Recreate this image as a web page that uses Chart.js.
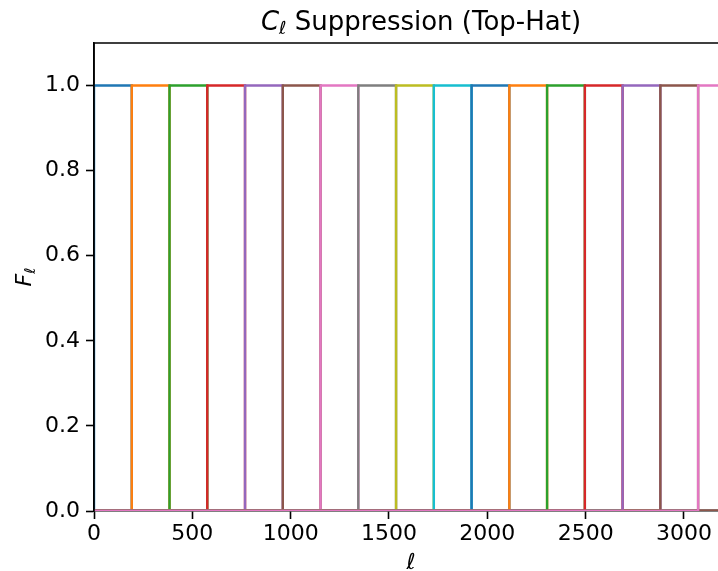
<!DOCTYPE html>
<html>
<head>
<meta charset="utf-8">
<script src="https://cdn.jsdelivr.net/npm/chart.js@4.4.0/dist/chart.umd.min.js"></script>
<style>
  html, body { margin: 0; padding: 0; background: #fff; }
  #wrap { width: 718px; height: 571px; overflow: hidden; }
</style>
</head>
<body>
<div id="wrap"><canvas id="chart" width="760" height="571"></canvas></div>
<script>
// bin edges of the top-hat windows (ell), one window per pair of edges
const binEdges = [0, 192, 384, 576, 768, 960, 1152, 1344, 1536, 1728, 1920, 2112, 2304, 2496, 2688, 2880, 3072, 3264];
const xTicks = [0, 500, 1000, 1500, 2000, 2500, 3000];
const yTicks = [0.0, 0.2, 0.4, 0.6, 0.8, 1.0];
const xMax = 3285;
const yMax = 1.1;

const colors = ['#1f77b4', '#ff7f0e', '#2ca02c', '#d62728', '#9467bd',
                '#8c564b', '#e377c2', '#7f7f7f', '#bcbd22', '#17becf'];

// build one top-hat line per bin: 0 everywhere, 1 inside the bin
const nBins = binEdges.length - 1;
const datasets = [];
for (let i = 0; i < nBins; i++) {
    const a = binEdges[i], b = binEdges[i + 1];
    datasets.push({
        data: [{x: 0, y: 0}, {x: a, y: 0}, {x: a, y: 1}, {x: b, y: 1}, {x: b, y: 0}, {x: xMax, y: 0}],
        borderColor: colors[i % colors.length],
        borderWidth: 2.4,
        pointRadius: 0,
        fill: false,
        tension: 0,
        order: nBins - i // later lines on top, like matplotlib
    });
}

Chart.defaults.font.family = "'DejaVu Sans', sans-serif";
Chart.defaults.color = '#000';

const FONT = "'DejaVu Sans'";

// title, axis labels and the top/right spines
const textPlugin = {
    id: 'textPlugin',
    afterDraw(chart) {
        const ctx = chart.ctx, a = chart.chartArea;
        ctx.save();
        ctx.strokeStyle = '#000';
        ctx.lineWidth = 1.6;
        ctx.beginPath();
        ctx.moveTo(a.right, a.bottom);
        ctx.lineTo(a.right, a.top);
        ctx.lineTo(a.left, a.top);
        ctx.lineTo(a.left, a.bottom);
        ctx.stroke();

        ctx.fillStyle = '#000';
        ctx.textBaseline = 'alphabetic';
        const cx = (a.left + a.right) / 2;

        // title: C_ell Suppression (Top-Hat)
        const big = 'italic 26px ' + FONT, sub = 'italic 18px ' + FONT, reg = '26px ' + FONT;
        const rest = ' Suppression (Top-Hat)';
        ctx.font = big; const wC = ctx.measureText('C').width;
        ctx.font = sub; const wL = ctx.measureText('ℓ').width;
        ctx.font = reg; const wR = ctx.measureText(rest).width;
        let x = cx + 4 - (wC + wL + wR) / 2;
        const ty = 30;
        ctx.textAlign = 'left';
        ctx.font = big; ctx.fillText('C', x, ty); x += wC;
        ctx.font = sub; ctx.fillText('ℓ', x, ty + 4); x += wL;
        ctx.font = reg; ctx.fillText(rest, x, ty);

        // x label
        ctx.font = 'italic 22px ' + FONT;
        ctx.textAlign = 'center';
        ctx.fillText('ℓ', cx - 6, 569);

        // y label: F_ell rotated
        ctx.translate(31, (a.top + a.bottom) / 2);
        ctx.rotate(-Math.PI / 2);
        ctx.font = 'italic 22px ' + FONT; const wF = ctx.measureText('F').width;
        ctx.font = 'italic 15px ' + FONT; const wl = ctx.measureText('ℓ').width;
        let yx = -(wF + wl) / 2;
        ctx.textAlign = 'left';
        ctx.font = 'italic 22px ' + FONT; ctx.fillText('F', yx, 0); yx += wF;
        ctx.font = 'italic 15px ' + FONT; ctx.fillText('ℓ', yx, 4);
        ctx.restore();
    }
};

const axisStyle = {
    grid: { display: true, drawOnChartArea: false, drawTicks: true, tickLength: 8, tickColor: '#000', tickWidth: 1.6 },
    border: { display: true, color: '#000', width: 1.6 }
};

new Chart(document.getElementById('chart'), {
    type: 'line',
    data: { datasets: datasets },
    options: {
        responsive: false,
        animation: false,
        layout: { padding: { top: 43, right: 20, left: 0, bottom: 0 } },
        plugins: { legend: { display: false }, tooltip: { enabled: false }, title: { display: false } },
        scales: {
            x: {
                type: 'linear',
                min: 0,
                max: xMax,
                ...axisStyle,
                ticks: { font: { size: 22 }, color: '#000', padding: 2, maxRotation: 0, callback: v => String(v) },
                afterBuildTicks: s => { s.ticks = xTicks.map(v => ({value: v})); },
                afterFit: s => { s.height = 60; }
            },
            y: {
                type: 'linear',
                min: 0,
                max: yMax,
                ...axisStyle,
                ticks: { font: { size: 22 }, color: '#000', padding: 6, callback: v => v.toFixed(1) },
                afterBuildTicks: s => { s.ticks = yTicks.map(v => ({value: v})); },
                afterFit: s => { s.width = 94; }
            }
        }
    },
    plugins: [textPlugin]
});
</script>
</body>
</html>
